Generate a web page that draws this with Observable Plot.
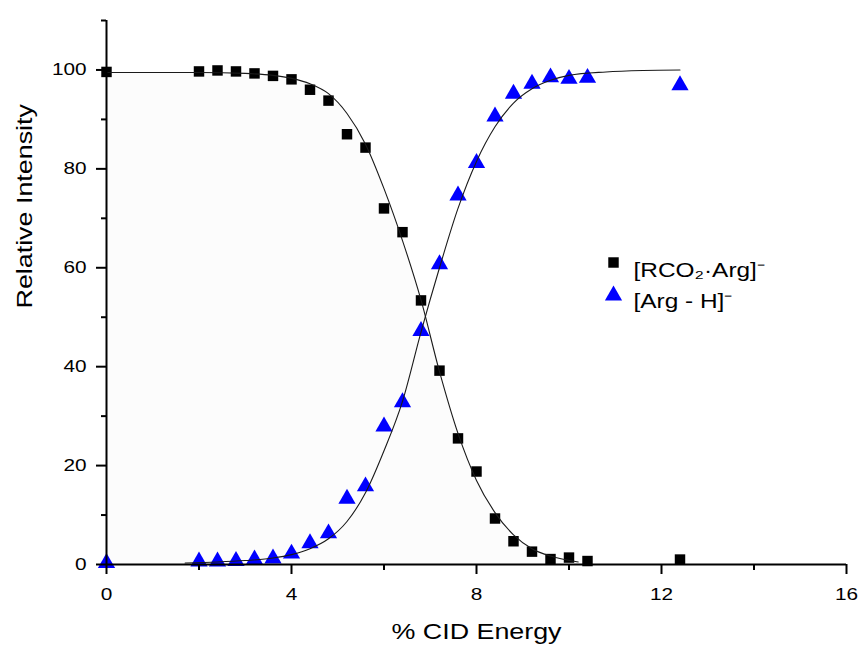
<!DOCTYPE html>
<html>
<head>
<meta charset="utf-8">
<script src="https://cdn.jsdelivr.net/npm/d3@7"></script>
<script src="https://cdn.jsdelivr.net/npm/@observablehq/plot@0.6"></script>
<style>
  html, body { margin: 0; padding: 0; background: #ffffff; }
  #chart { width: 860px; height: 648px; }
  #chart [aria-label$="axis tick"], #chart [aria-label$="axis tick"] path { stroke-width: 2px !important; }
</style>
</head>
<body>
<div id="chart"></div>
<script>
// ---- data ----
const energy = [0, 2.0, 2.4, 2.8, 3.2, 3.6, 4.0, 4.4, 4.8, 5.2, 5.6, 6.0, 6.4, 6.8, 7.2, 7.6, 8.0, 8.4, 8.8, 9.2, 9.6, 10.0, 10.4, 12.4];
const rco2Arg = [99.6, 99.7, 99.9, 99.7, 99.3, 98.8, 98.1, 96.0, 93.8, 87.0, 84.3, 72.0, 67.2, 53.4, 39.2, 25.5, 18.8, 9.3, 4.7, 2.6, 1.1, 1.4, 0.7, 1.0];
const argH = [0.3, 0.6, 0.6, 0.7, 1.0, 1.2, 2.2, 4.3, 6.3, 13.3, 15.8, 27.9, 32.8, 47.2, 60.7, 74.6, 81.2, 90.6, 95.2, 97.2, 98.5, 98.2, 98.4, 96.9];

// fitted curves
const rco2FitEnergy = [0, 2.0, 3.0, 3.6, 4.0, 4.4, 4.8, 5.2, 5.6, 6.0, 6.4, 6.8, 7.2, 7.6, 8.0, 8.4, 8.8, 9.2, 9.6, 10.2];
const rco2FitIntensity = [99.5, 99.5, 99.3, 98.9, 98.3, 97.2, 95.2, 91.2, 85.0, 76.0, 65.5, 53.5, 39.0, 26.5, 17.0, 10.5, 6.0, 3.2, 1.7, 0.5];
const argHFitEnergy = [1.7, 2.4, 3.0, 3.6, 4.0, 4.4, 4.8, 5.2, 5.6, 6.0, 6.4, 6.8, 7.2, 7.6, 8.0, 8.4, 8.8, 9.2, 9.6, 10.0, 10.8, 11.6, 12.4];
const argHFitIntensity = [0.3, 0.5, 0.8, 1.3, 2.0, 3.2, 5.2, 8.7, 14.5, 23.0, 33.0, 47.0, 60.0, 72.0, 81.5, 88.5, 93.3, 96.2, 97.9, 98.9, 99.6, 99.9, 100.0];

const xTicksMajor = [0, 4, 8, 12, 16];
const xTicksMinor = [2, 6, 10, 14];
const yTicksMajor = [0, 20, 40, 60, 80, 100];
const yTicksMinor = [10, 30, 50, 70, 90, 110];
const seriesNames = ["[RCO\u2082\u00B7Arg]\u207B", "[Arg - H]\u207B"];
const xTitle = "% CID Energy";
const yTitle = "Relative Intensity";

// ---- tables built from the arrays ----
const rcoPoints = energy.map((e, i) => ({energy: e, intensity: rco2Arg[i]}));
const argPoints = energy.map((e, i) => ({energy: e, intensity: argH[i]}));
const rcoFit = rco2FitEnergy.map((e, i) => ({energy: e, intensity: rco2FitIntensity[i]}));
const argFit = argHFitEnergy.map((e, i) => ({energy: e, intensity: argHFitIntensity[i]}));

const font = "'Liberation Sans', Arial, Helvetica, sans-serif";

const chart = Plot.plot({
  width: 860,
  height: 648,
  marginLeft: 106,
  marginRight: 14,
  marginTop: 20,
  marginBottom: 84,
  x: {domain: [0, 16], label: null},
  y: {domain: [0, 110], label: null},
  style: {fontFamily: font, fontSize: "17px", background: "#ffffff", color: "#000000"},
  marks: [
    Plot.areaY(rcoFit, {x: "energy", y: "intensity", fill: "#fcfcfc", curve: "monotone-x"}),
    Plot.dot(rcoPoints, {x: "energy", y: "intensity", symbol: "square", r: 5.9, fill: "#000000"}),
    Plot.dot(argPoints, {x: "energy", y: "intensity", symbol: "triangle", r: 6.4, fill: "#0000ff"}),
    Plot.line(rcoFit, {x: "energy", y: "intensity", stroke: "#1a1a1a", strokeWidth: 1.1, curve: "monotone-x"}),
    Plot.line(argFit, {x: "energy", y: "intensity", stroke: "#1a1a1a", strokeWidth: 1.1, curve: "monotone-x"}),
    Plot.ruleX([0], {stroke: "#000000", strokeWidth: 2}),
    Plot.ruleY([0], {stroke: "#000000", strokeWidth: 2}),
    Plot.axisX({ticks: xTicksMajor, anchor: "bottom", tickSize: 10, tickPadding: 13, strokeWidth: 2, label: null}),
    Plot.axisX({ticks: xTicksMinor, anchor: "bottom", tickSize: 6, strokeWidth: 2, fill: "none", label: null}),
    Plot.axisY({ticks: yTicksMajor, anchor: "left", tickSize: 10, tickPadding: 10, strokeWidth: 2, label: null}),
    Plot.axisY({ticks: yTicksMinor, anchor: "left", tickSize: 5, strokeWidth: 2, fill: "none", label: null}),
    // legend inside the plot area
    Plot.dot([seriesNames[0]], {frameAnchor: "top-left", dx: 507, dy: 242, symbol: "square", r: 5.9, fill: "#000000"}),
    Plot.text([seriesNames[0]], {frameAnchor: "top-left", dx: 527, dy: 242, textAnchor: "start", fontSize: 20}),
    Plot.dot([seriesNames[1]], {frameAnchor: "top-left", dx: 507, dy: 275, symbol: "triangle", r: 6.4, fill: "#0000ff"}),
    Plot.text([seriesNames[1]], {frameAnchor: "top-left", dx: 527, dy: 273, textAnchor: "start", fontSize: 20}),
    // axis titles
    Plot.text([xTitle], {frameAnchor: "bottom", dy: 74, fontSize: 22}),
    Plot.text([yTitle], {frameAnchor: "left", dx: -82, dy: 16, rotate: -90, fontSize: 22})
  ]
});

document.getElementById("chart").append(chart);

// the reference's lettering is wider than the installed Arial metrics
const stretch = 1.22;
chart.querySelectorAll("text").forEach(t => {
  const L = t.getComputedTextLength();
  if (L > 0) {
    t.setAttribute("textLength", (L * stretch).toFixed(1));
    t.setAttribute("lengthAdjust", "spacingAndGlyphs");
  }
});
</script>
</body>
</html>
